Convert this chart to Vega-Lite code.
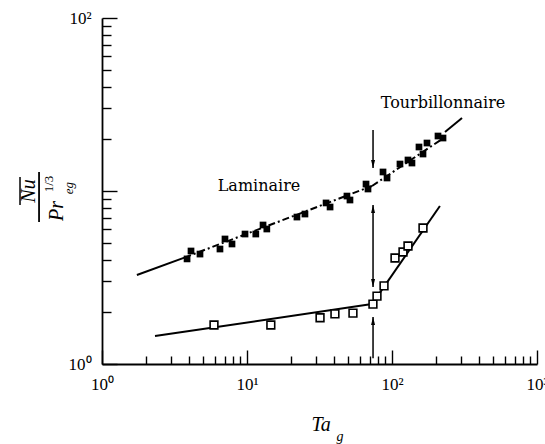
{
  "$schema": "https://vega.github.io/schema/vega-lite/v6.json",
  "autosize": {"type": "none"},
  "width": 435,
  "height": 346,
  "padding": {"left": 102, "top": 18, "right": 8, "bottom": 80},
  "background": "white",
  "config": {
    "view": {"stroke": null},
    "axis": {
      "grid": false,
      "domainColor": "black",
      "domainWidth": 1.8,
      "tickColor": "black",
      "tickWidth": 1.4,
      "labelFont": "Liberation Serif",
      "labelFontSize": 17,
      "labelColor": "black",
      "title": null
    }
  },
  "datasets": {
    "laminaire": [
      {"Ta": 3.86, "Nu": 4.05}, {"Ta": 4.11, "Nu": 4.50}, {"Ta": 4.74, "Nu": 4.32},
      {"Ta": 6.51, "Nu": 4.62}, {"Ta": 7.05, "Nu": 5.28}, {"Ta": 7.88, "Nu": 4.94},
      {"Ta": 9.69, "Nu": 5.64}, {"Ta": 11.5, "Nu": 5.64}, {"Ta": 12.9, "Nu": 6.36},
      {"Ta": 13.7, "Nu": 6.03}, {"Ta": 22.1, "Nu": 7.07}, {"Ta": 25.1, "Nu": 7.36},
      {"Ta": 35.1, "Nu": 8.53}, {"Ta": 37.4, "Nu": 8.08}, {"Ta": 48.9, "Nu": 9.35},
      {"Ta": 51.3, "Nu": 8.87}, {"Ta": 66.2, "Nu": 10.97}, {"Ta": 68.3, "Nu": 10.27},
      {"Ta": 86.7, "Nu": 12.88}, {"Ta": 92.4, "Nu": 11.89}, {"Ta": 113.5, "Nu": 14.32},
      {"Ta": 128.9, "Nu": 15.11}, {"Ta": 137.3, "Nu": 14.51}, {"Ta": 153.5, "Nu": 17.96},
      {"Ta": 174.3, "Nu": 18.94}, {"Ta": 163.6, "Nu": 16.36}, {"Ta": 207.6, "Nu": 20.79},
      {"Ta": 224.8, "Nu": 20.24}
    ],
    "open": [
      {"Ta": 5.92, "Nu": 1.68}, {"Ta": 14.6, "Nu": 1.68}, {"Ta": 31.9, "Nu": 1.85},
      {"Ta": 40.4, "Nu": 1.95}, {"Ta": 53.8, "Nu": 1.97}, {"Ta": 73.9, "Nu": 2.22},
      {"Ta": 78.8, "Nu": 2.47}, {"Ta": 88.1, "Nu": 2.83}, {"Ta": 104.9, "Nu": 4.10},
      {"Ta": 119.1, "Nu": 4.44}, {"Ta": 128.9, "Nu": 4.81}, {"Ta": 163.6, "Nu": 6.11}
    ],
    "lines": [
      {"seg": "lam_solid", "Ta": 1.74, "Nu": 3.27}, {"seg": "lam_solid", "Ta": 3.7, "Nu": 4.12},
      {"seg": "lam_dash", "Ta": 3.7, "Nu": 4.12}, {"seg": "lam_dash", "Ta": 72.8, "Nu": 10.69},
      {"seg": "turb_dash", "Ta": 72.8, "Nu": 10.69}, {"seg": "turb_dash", "Ta": 232, "Nu": 20.5},
      {"seg": "leader", "Ta": 232, "Nu": 21.9}, {"seg": "leader", "Ta": 304, "Nu": 26.4},
      {"seg": "low_lam", "Ta": 2.32, "Nu": 1.45}, {"seg": "low_lam", "Ta": 72.8, "Nu": 2.22},
      {"seg": "low_turb", "Ta": 72.8, "Nu": 2.22}, {"seg": "low_turb", "Ta": 214, "Nu": 8.19}
    ],
    "arrows": [
      {"Ta": 74, "from": 22.5, "to": 13.6},
      {"Ta": 74, "from": 8.3, "to": 2.79},
      {"Ta": 74, "from": 1.08, "to": 1.87}
    ],
    "heads_down": [{"Ta": 74, "Nu": 13.6}, {"Ta": 74, "Nu": 2.79}],
    "heads_up": [{"Ta": 74, "Nu": 8.3}, {"Ta": 74, "Nu": 1.87}],
    "one": [{}]
  },
  "layer": [
    {
      "data": {"name": "lines"},
      "transform": [{"filter": "indexof(['lam_solid','leader','low_lam','low_turb'], datum.seg) >= 0"}],
      "mark": {"type": "line", "color": "black", "strokeWidth": 2},
      "encoding": {
        "x": {"field": "Ta", "type": "quantitative", "scale": {"type": "log", "domain": [1, 1000], "nice": false},
          "axis": {
            "orient": "bottom",
            "values": [1,2,3,4,5,6,7,8,9,10,20,30,40,50,60,70,80,90,100,200,300,400,500,600,700,800,900,1000],
            "tickSize": {"condition": {"test": "datum.value == 1 || datum.value == 10 || datum.value == 100 || datum.value == 1000", "value": -14}, "value": -8},
            "labelExpr": "datum.value == 1 ? '10⁰' : datum.value == 10 ? '10¹' : datum.value == 100 ? '10²' : datum.value == 1000 ? '10³' : ''",
            "labelPadding": 26,
            "labelFlush": false,
            "labelOverlap": false
          }},
        "y": {"field": "Nu", "type": "quantitative", "scale": {"type": "log", "domain": [1, 100], "nice": false},
          "axis": {
            "orient": "left",
            "values": [1,2,3,4,5,6,7,8,9,10,20,30,40,50,60,70,80,90,100],
            "tickSize": {"condition": {"test": "datum.value == 1 || datum.value == 10 || datum.value == 100", "value": -15}, "value": -9},
            "labelExpr": "datum.value == 1 ? '10⁰' : datum.value == 100 ? '10²' : ''",
            "labelPadding": 26,
            "labelFlush": false,
            "labelOverlap": false
          }},
        "detail": {"field": "seg"}
      }
    },
    {
      "data": {"name": "lines"},
      "transform": [{"filter": "indexof(['lam_dash','turb_dash'], datum.seg) >= 0"}],
      "mark": {"type": "line", "color": "black", "strokeWidth": 2, "strokeDash": [7, 3, 2, 3]},
      "encoding": {
        "x": {"field": "Ta", "type": "quantitative"},
        "y": {"field": "Nu", "type": "quantitative"},
        "detail": {"field": "seg"}
      }
    },
    {
      "data": {"name": "arrows"},
      "mark": {"type": "rule", "color": "black", "strokeWidth": 1.5},
      "encoding": {
        "x": {"field": "Ta", "type": "quantitative"},
        "y": {"field": "from", "type": "quantitative"},
        "y2": {"field": "to"}
      }
    },
    {
      "data": {"name": "heads_down"},
      "mark": {"type": "point", "shape": "M0,0L-0.8,-3.2L0.8,-3.2Z", "filled": true, "color": "black", "opacity": 1, "size": 25},
      "encoding": {
        "x": {"field": "Ta", "type": "quantitative"},
        "y": {"field": "Nu", "type": "quantitative"}
      }
    },
    {
      "data": {"name": "heads_up"},
      "mark": {"type": "point", "shape": "M0,0L-0.8,3.2L0.8,3.2Z", "filled": true, "color": "black", "opacity": 1, "size": 25},
      "encoding": {
        "x": {"field": "Ta", "type": "quantitative"},
        "y": {"field": "Nu", "type": "quantitative"}
      }
    },
    {
      "data": {"name": "laminaire"},
      "mark": {"type": "point", "shape": "square", "filled": true, "color": "black", "opacity": 1, "size": 45},
      "encoding": {
        "x": {"field": "Ta", "type": "quantitative"},
        "y": {"field": "Nu", "type": "quantitative"}
      }
    },
    {
      "data": {"name": "open"},
      "mark": {"type": "point", "shape": "square", "fill": "white", "stroke": "black", "strokeWidth": 1.6, "opacity": 1, "fillOpacity": 1, "size": 60},
      "encoding": {
        "x": {"field": "Ta", "type": "quantitative"},
        "y": {"field": "Nu", "type": "quantitative"}
      }
    },
    {
      "data": {"name": "one"},
      "mark": {"type": "text", "text": "Laminaire", "font": "DejaVu Serif", "fontSize": 16, "color": "black", "align": "center", "baseline": "middle"},
      "encoding": {"x": {"datum": 12.1}, "y": {"datum": 10.69}}
    },
    {
      "data": {"name": "one"},
      "mark": {"type": "text", "text": "Tourbillonnaire", "font": "DejaVu Serif", "fontSize": 16, "color": "black", "align": "center", "baseline": "middle"},
      "encoding": {"x": {"datum": 224.8}, "y": {"datum": 32.3}}
    },
    {
      "data": {"name": "one"},
      "mark": {"type": "text", "text": "Ta", "font": "Liberation Serif", "fontStyle": "italic", "fontSize": 20, "color": "black", "align": "center", "baseline": "middle"},
      "encoding": {"x": {"datum": 32.4}, "y": {"datum": 0.444}}
    },
    {
      "data": {"name": "one"},
      "mark": {"type": "text", "text": "g", "font": "Liberation Serif", "fontStyle": "italic", "fontSize": 14, "color": "black", "align": "center", "baseline": "middle"},
      "encoding": {"x": {"datum": 43.8}, "y": {"datum": 0.379}}
    },
    {
      "data": {"name": "one"},
      "mark": {"type": "text", "text": "Nu", "font": "Liberation Serif", "fontStyle": "italic", "fontSize": 20, "color": "black", "align": "center", "baseline": "middle", "angle": 270},
      "encoding": {"x": {"datum": 0.314}, "y": {"datum": 10.0}}
    },
    {
      "data": {"name": "one"},
      "mark": {"type": "rule", "color": "black", "strokeWidth": 1.5},
      "encoding": {"x": {"datum": 0.272}, "y": {"datum": 12.05}, "y2": {"datum": 8.3}}
    },
    {
      "data": {"name": "one"},
      "mark": {"type": "rule", "color": "black", "strokeWidth": 1.8},
      "encoding": {"x": {"datum": 0.368}, "y": {"datum": 12.88}, "y2": {"datum": 6.62}}
    },
    {
      "data": {"name": "one"},
      "mark": {"type": "text", "text": "Pr", "font": "Liberation Serif", "fontStyle": "italic", "fontSize": 20, "color": "black", "align": "center", "baseline": "middle", "angle": 270},
      "encoding": {"x": {"datum": 0.49}, "y": {"datum": 7.66}}
    },
    {
      "data": {"name": "one"},
      "mark": {"type": "text", "text": "eg", "font": "Liberation Serif", "fontStyle": "italic", "fontSize": 13, "color": "black", "align": "center", "baseline": "middle", "angle": 270},
      "encoding": {"x": {"datum": 0.592}, "y": {"datum": 10.4}}
    },
    {
      "data": {"name": "one"},
      "mark": {"type": "text", "text": "1/3", "font": "Liberation Serif", "fontSize": 13, "color": "black", "align": "center", "baseline": "middle", "angle": 270},
      "encoding": {"x": {"datum": 0.431}, "y": {"datum": 10.97}}
    }
  ]
}
